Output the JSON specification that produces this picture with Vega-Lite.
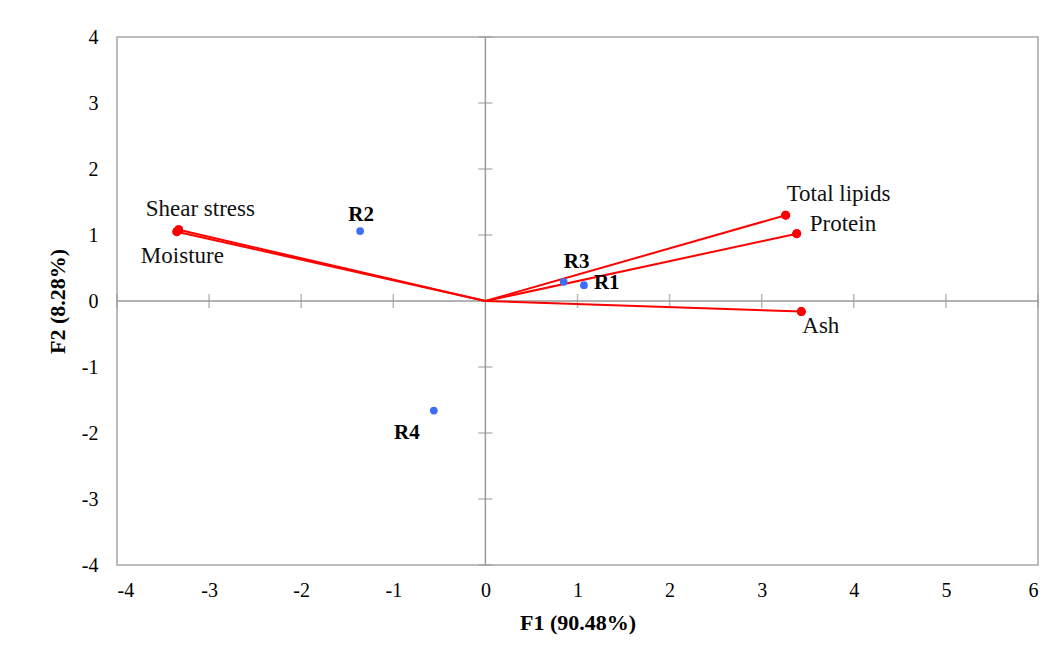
{
  "$schema": "https://vega.github.io/schema/vega-lite/v6.json",
  "width": 921,
  "height": 528,
  "autosize": {"type": "none"},
  "padding": {"left": 117, "top": 37, "right": 24, "bottom": 101},
  "background": "white",
  "config": {
    "view": {"stroke": "#a6a6a6", "strokeWidth": 1.5},
    "font": "Liberation Serif, Times New Roman, serif",
    "text": {"font": "Liberation Serif, Times New Roman, serif"},
    "axis": {"labelFont": "Liberation Serif, Times New Roman, serif", "titleFont": "Liberation Serif, Times New Roman, serif", "labelColor": "black", "titleColor": "black", "labelFontSize": 20, "titleFontSize": 22, "titleFontWeight": "bold", "grid": false}
  },
  "datasets": {
    "vars": [
      {"name": "Shear stress", "x": -3.33, "y": 1.08},
      {"name": "Moisture", "x": -3.35, "y": 1.05},
      {"name": "Total lipids", "x": 3.26, "y": 1.30},
      {"name": "Protein", "x": 3.38, "y": 1.02},
      {"name": "Ash", "x": 3.43, "y": -0.16}
    ],
    "vectors": [
      {"name": "Shear stress", "x": 0, "y": 0}, {"name": "Shear stress", "x": -3.33, "y": 1.08},
      {"name": "Moisture", "x": 0, "y": 0}, {"name": "Moisture", "x": -3.35, "y": 1.05},
      {"name": "Total lipids", "x": 0, "y": 0}, {"name": "Total lipids", "x": 3.26, "y": 1.30},
      {"name": "Protein", "x": 0, "y": 0}, {"name": "Protein", "x": 3.38, "y": 1.02},
      {"name": "Ash", "x": 0, "y": 0}, {"name": "Ash", "x": 3.43, "y": -0.16}
    ],
    "obs": [
      {"name": "R1", "x": 1.07, "y": 0.24},
      {"name": "R2", "x": -1.36, "y": 1.06},
      {"name": "R3", "x": 0.85, "y": 0.29},
      {"name": "R4", "x": -0.56, "y": -1.66}
    ],
    "zero": [{"v": 0}],
    "xticks": [{"x": -4, "y": 0}, {"x": -3, "y": 0}, {"x": -2, "y": 0}, {"x": -1, "y": 0}, {"x": 1, "y": 0}, {"x": 2, "y": 0}, {"x": 3, "y": 0}, {"x": 4, "y": 0}, {"x": 5, "y": 0}, {"x": 6, "y": 0}],
    "yticks": [{"x": 0, "y": -4}, {"x": 0, "y": -3}, {"x": 0, "y": -2}, {"x": 0, "y": -1}, {"x": 0, "y": 1}, {"x": 0, "y": 2}, {"x": 0, "y": 3}, {"x": 0, "y": 4}]
  },
  "layer": [
    {
      "data": {"name": "vars"},
      "mark": {"type": "circle", "color": "#ff0000", "opacity": 1, "size": 80},
      "encoding": {
        "x": {"field": "x", "type": "quantitative", "scale": {"domain": [-4, 6], "nice": false, "zero": false}, "axis": {"orient": "bottom", "domain": false, "ticks": false, "labelPadding": 15, "labelExpr": "'' + datum.value", "title": "F1 (90.48%)", "titlePadding": 12, "values": [-4,-3,-2,-1,0,1,2,3,4,5,6]}},
        "y": {"field": "y", "type": "quantitative", "scale": {"domain": [-4, 4], "nice": false, "zero": false}, "axis": {"orient": "left", "domain": false, "ticks": false, "labelPadding": 19, "labelExpr": "'' + datum.value", "title": "F2 (8.28%)", "titlePadding": 12, "values": [-4,-3,-2,-1,0,1,2,3,4]}}
      }
    },
    {
      "data": {"name": "zero"},
      "mark": {"type": "rule", "color": "#9a9a9a", "strokeWidth": 1.5},
      "encoding": {"x": {"field": "v", "type": "quantitative"}}
    },
    {
      "data": {"name": "zero"},
      "mark": {"type": "rule", "color": "#9a9a9a", "strokeWidth": 1.5},
      "encoding": {"y": {"field": "v", "type": "quantitative"}}
    },
    {
      "data": {"name": "yticks"},
      "mark": {"type": "tick", "color": "#9a9a9a", "orient": "horizontal", "size": 14, "thickness": 1.5},
      "encoding": {"x": {"field": "x", "type": "quantitative"}, "y": {"field": "y", "type": "quantitative"}}
    },
    {
      "data": {"name": "xticks"},
      "mark": {"type": "tick", "color": "#9a9a9a", "orient": "vertical", "size": 14, "thickness": 1.5},
      "encoding": {"x": {"field": "x", "type": "quantitative"}, "y": {"field": "y", "type": "quantitative"}}
    },
    {
      "data": {"name": "vectors"},
      "mark": {"type": "line", "color": "#ff0000", "strokeWidth": 2},
      "encoding": {
        "x": {"field": "x", "type": "quantitative"},
        "y": {"field": "y", "type": "quantitative"},
        "detail": {"field": "name", "type": "nominal"}
      }
    },
    {
      "data": {"name": "vars"},
      "mark": {"type": "circle", "color": "#ff0000", "opacity": 1, "size": 80},
      "encoding": {
        "x": {"field": "x", "type": "quantitative"},
        "y": {"field": "y", "type": "quantitative"}
      }
    },
    {
      "data": {"name": "obs"},
      "mark": {"type": "circle", "color": "#3b6ff5", "opacity": 1, "size": 60},
      "encoding": {
        "x": {"field": "x", "type": "quantitative"},
        "y": {"field": "y", "type": "quantitative"}
      }
    },
    {
      "data": {"name": "vars"},
      "transform": [{"filter": "datum.name === 'Shear stress'"}],
      "mark": {"type": "text", "fontSize": 23, "align": "left", "baseline": "middle", "dx": -33, "dy": -21, "color": "#111"},
      "encoding": {"x": {"field": "x", "type": "quantitative"}, "y": {"field": "y", "type": "quantitative"}, "text": {"field": "name", "type": "nominal"}}
    },
    {
      "data": {"name": "vars"},
      "transform": [{"filter": "datum.name === 'Moisture'"}],
      "mark": {"type": "text", "fontSize": 23, "align": "left", "baseline": "middle", "dx": -36, "dy": 24, "color": "#111"},
      "encoding": {"x": {"field": "x", "type": "quantitative"}, "y": {"field": "y", "type": "quantitative"}, "text": {"field": "name", "type": "nominal"}}
    },
    {
      "data": {"name": "vars"},
      "transform": [{"filter": "datum.name === 'Total lipids'"}],
      "mark": {"type": "text", "fontSize": 23, "align": "left", "baseline": "middle", "dx": 1, "dy": -21, "color": "#111"},
      "encoding": {"x": {"field": "x", "type": "quantitative"}, "y": {"field": "y", "type": "quantitative"}, "text": {"field": "name", "type": "nominal"}}
    },
    {
      "data": {"name": "vars"},
      "transform": [{"filter": "datum.name === 'Protein'"}],
      "mark": {"type": "text", "fontSize": 23, "align": "left", "baseline": "middle", "dx": 13, "dy": -10, "color": "#111"},
      "encoding": {"x": {"field": "x", "type": "quantitative"}, "y": {"field": "y", "type": "quantitative"}, "text": {"field": "name", "type": "nominal"}}
    },
    {
      "data": {"name": "vars"},
      "transform": [{"filter": "datum.name === 'Ash'"}],
      "mark": {"type": "text", "fontSize": 23, "align": "left", "baseline": "middle", "dx": 1, "dy": 14, "color": "#111"},
      "encoding": {"x": {"field": "x", "type": "quantitative"}, "y": {"field": "y", "type": "quantitative"}, "text": {"field": "name", "type": "nominal"}}
    },
    {
      "data": {"name": "obs"},
      "transform": [{"filter": "datum.name === 'R2'"}],
      "mark": {"type": "text", "fontSize": 21, "fontWeight": "bold", "align": "center", "baseline": "middle", "dx": 1, "dy": -16, "color": "black"},
      "encoding": {"x": {"field": "x", "type": "quantitative"}, "y": {"field": "y", "type": "quantitative"}, "text": {"field": "name", "type": "nominal"}}
    },
    {
      "data": {"name": "obs"},
      "transform": [{"filter": "datum.name === 'R3'"}],
      "mark": {"type": "text", "fontSize": 21, "fontWeight": "bold", "align": "center", "baseline": "middle", "dx": 13, "dy": -20, "color": "black"},
      "encoding": {"x": {"field": "x", "type": "quantitative"}, "y": {"field": "y", "type": "quantitative"}, "text": {"field": "name", "type": "nominal"}}
    },
    {
      "data": {"name": "obs"},
      "transform": [{"filter": "datum.name === 'R1'"}],
      "mark": {"type": "text", "fontSize": 21, "fontWeight": "bold", "align": "left", "baseline": "middle", "dx": 10, "dy": -2, "color": "black"},
      "encoding": {"x": {"field": "x", "type": "quantitative"}, "y": {"field": "y", "type": "quantitative"}, "text": {"field": "name", "type": "nominal"}}
    },
    {
      "data": {"name": "obs"},
      "transform": [{"filter": "datum.name === 'R4'"}],
      "mark": {"type": "text", "fontSize": 21, "fontWeight": "bold", "align": "center", "baseline": "middle", "dx": -27, "dy": 22, "color": "black"},
      "encoding": {"x": {"field": "x", "type": "quantitative"}, "y": {"field": "y", "type": "quantitative"}, "text": {"field": "name", "type": "nominal"}}
    }
  ]
}
